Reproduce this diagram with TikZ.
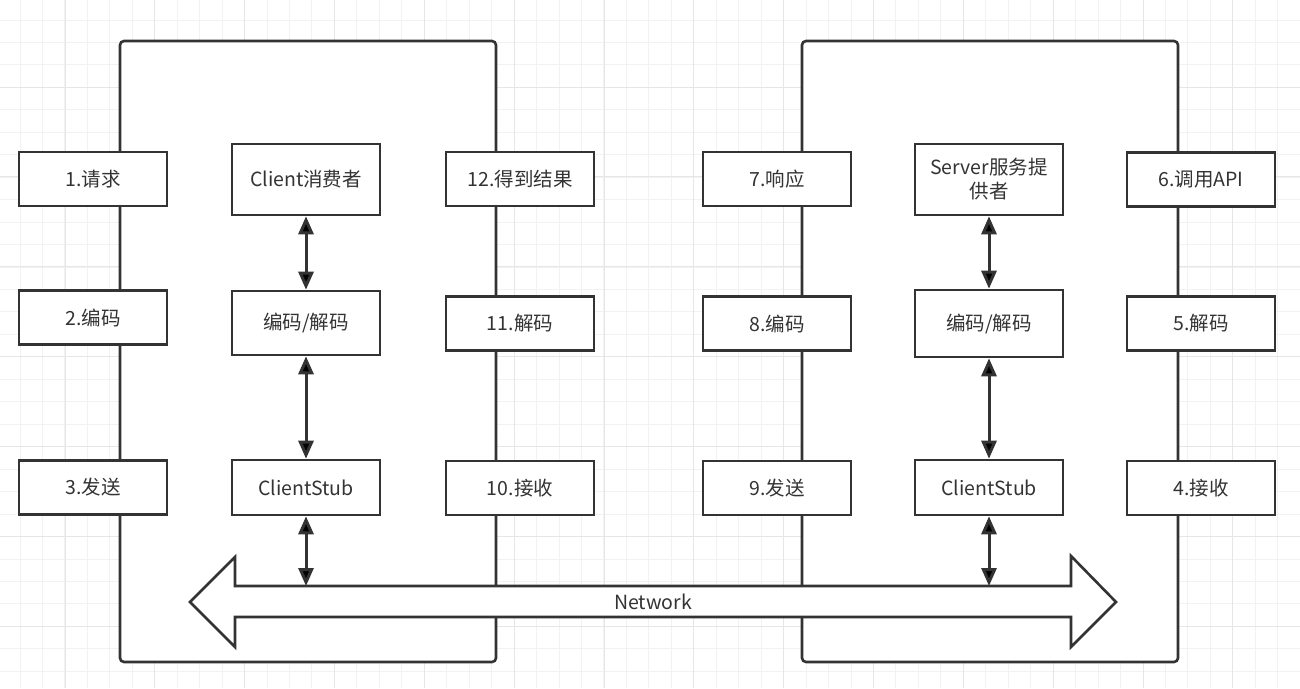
\documentclass[tikz,border=0pt]{standalone}
\usepackage{fontspec}
\setmainfont{Noto Sans CJK SC}
\usetikzlibrary{arrows.meta}
\definecolor{ink}{HTML}{333333}
\definecolor{gridminor}{HTML}{F2F2F2}
\definecolor{gridmajor}{HTML}{E6E6E6}

\begin{document}
\begin{tikzpicture}[
  x = 1pt, y = -1pt,            % one unit per pixel, y downwards
  > = {Triangle[length=18pt, width=15pt]}, % arrow head style
  line width = 2.6pt,           % thick outlines
  font = \fontsize{19.5}{24}\selectfont,
  text = ink
  ]

  \tikzstyle{S1}=[      % Defines style for step boxes
  draw = ink, fill = white,
  minimum width = 148, minimum height = 54,
  inner sep = 0pt
  ]

  \tikzstyle{C1}=[      % Defines style for centre boxes
  S1, align = center
  ]

  \tikzstyle{F1}=[      % Defines style for big frames
  draw = ink, fill = white,
  rounded corners = 4pt
  ]

  \tikzstyle{A1}=[      % Defines style for arrows
  draw = ink, line width = 3pt
  ]

  \useasboundingbox (0,0) rectangle (1300,688);

  % background grid
  \foreach \i in {0,...,57} {
    \draw[gridminor, line width=1pt] ({20+22.46*\i},0) -- ({20+22.46*\i},688);
  }
  \foreach \i in {0,...,30} {
    \draw[gridminor, line width=1pt] (0,{20+22.46*\i}) -- (1300,{20+22.46*\i});
  }
  \foreach \i in {0,...,13} {
    \draw[gridmajor, line width=1pt] ({65+89.84*\i},0) -- ({65+89.84*\i},688);
  }
  \foreach \i in {0,...,6} {
    \draw[gridmajor, line width=1pt] (0,{87+89.84*\i}) -- (1300,{87+89.84*\i});
  }

  % Definition of the frames
  \draw[F1] (120,41) rectangle (496,662);
  \draw[F1] (802,41) rectangle (1178,662);

  % Network arrow
  \draw[draw = ink, fill = white, line join = miter]
    (190,602) -- (235,557) -- (235,586) -- (1071,586) -- (1071,556)
    -- (1116,602) -- (1071,647) -- (1071,617) -- (235,617) -- (235,647) -- cycle;
  \node (net) at (653,602) {Network};
  \coordinate (netl) at (306,586);
  \coordinate (netr) at (989,586);

  % Client side
  \node[S1] (s1)  at (93,179)  {1.请求};
  \node[S1] (s2)  at (93,317.5) {2.编码};
  \node[S1] (s3)  at (93,487.5) {3.发送};
  \node[S1] (s12) at (520,179)  {12.得到结果};
  \node[S1] (s11) at (520,323.5) {11.解码};
  \node[S1] (s10) at (520,488)  {10.接收};

  \node[C1, minimum height = 71] (cc) at (306,179.5) {Client消费者};
  \node[C1, minimum height = 64] (cd) at (306,323)   {编码/解码};
  \node[C1, minimum height = 55] (cs) at (306,487.5) {ClientStub};

  % Server side
  \node[S1] (s7) at (777,179)   {7.响应};
  \node[S1] (s8) at (777,323.5) {8.编码};
  \node[S1] (s9) at (777,488)   {9.发送};
  \node[S1] (s6) at (1201,179.5) {6.调用API};
  \node[S1] (s5) at (1201,323.5) {5.解码};
  \node[S1] (s4) at (1201,488)   {4.接收};

  \node[C1, minimum height = 71] (sp) at (989,179.5) {Server服务提\\供者};
  \node[C1, minimum height = 67] (sd) at (989,323.5) {编码/解码};
  \node[C1, minimum height = 55] (ss) at (989,487.5) {ClientStub};

  \path[<->, A1] (cc) edge (cd);
  \path[<->, A1] (cd) edge (cs);
  \path[<->, A1] (cs) edge (netl);
  \path[<->, A1] (sp) edge (sd);
  \path[<->, A1] (sd) edge (ss);
  \path[<->, A1] (ss) edge (netr);
\end{tikzpicture}
\end{document}
